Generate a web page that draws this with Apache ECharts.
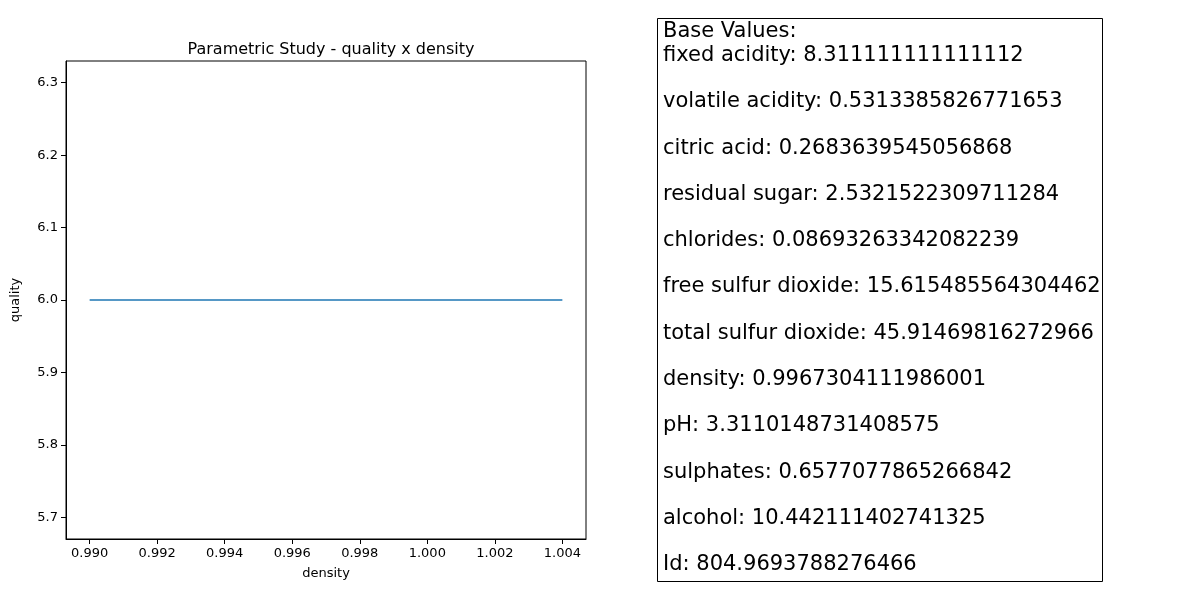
<!DOCTYPE html>
<html><head><meta charset="utf-8">
<script src="https://cdn.jsdelivr.net/npm/echarts@6/dist/echarts.min.js"></script>
<style>body{margin:0}#c{width:1200px;height:600px}</style></head>
<body><div id="c"></div>
<script>
const densityValues = [0.990, 0.992, 0.994, 0.996, 0.998, 1.000, 1.002, 1.0040];
const qualityValues = [6.0, 6.0, 6.0, 6.0, 6.0, 6.0, 6.0, 6.0];
const xTicks = [0.990,0.992,0.994,0.996,0.998,1.000,1.002,1.004];
const yTicks = [5.7,5.8,5.9,6.0,6.1,6.2,6.3];
const baseValueLines = [
 "fixed acidity: 8.311111111111112",
 "volatile acidity: 0.5313385826771653",
 "citric acid: 0.2683639545056868",
 "residual sugar: 2.5321522309711284",
 "chlorides: 0.08693263342082239",
 "free sulfur dioxide: 15.615485564304462",
 "total sulfur dioxide: 45.91469816272966",
 "density: 0.9967304111986001",
 "pH: 3.3110148731408575",
 "sulphates: 0.6577077865266842",
 "alcohol: 10.442111402741325",
 "Id: 804.9693788276466"
];
const ch = echarts.init(document.getElementById('c'));
const F = 'DejaVu Sans';
const graphics = [
 {type:'rect', shape:{x:657.5,y:18.5,width:445,height:563}, style:{fill:'#fff',stroke:'#000',lineWidth:1}},
 {type:'text', left:663, top:21, style:{text:'Base Values:', font:'21px "DejaVu Sans"', fill:'#000'}}
];
baseValueLines.forEach((t,i)=>graphics.push({type:'text', left:663, top:45+i*46.3, style:{text:t, font:'21px "DejaVu Sans"', fill:'#000'}}));
ch.setOption({
 animation:false,
 title:{text:'Parametric Study - quality x density', left:326, top:37, textAlign:'center', textStyle:{fontFamily:F,fontWeight:'normal',fontSize:16,color:'#000'}},
 grid:{left:66, top:61, width:520, height:478, show:true, borderColor:'#000', borderWidth:1},
 xAxis:{type:'value', min:0.9893, max:1.0047, name:'density', nameLocation:'middle', nameGap:28,
  nameTextStyle:{fontFamily:F,fontSize:13,color:'#000'},
  axisLine:{lineStyle:{color:'#000'}}, axisTick:{show:true,customValues:xTicks,lineStyle:{color:'#000'}}, splitLine:{show:false},
  axisLabel:{fontFamily:F,fontSize:13,color:'#000',showMinLabel:true,showMaxLabel:true,
   customValues:xTicks, formatter:v=>v.toFixed(3)}},
 yAxis:{type:'value', min:5.67, max:6.33, name:'quality', nameLocation:'middle', nameGap:44,
  nameTextStyle:{fontFamily:F,fontSize:13,color:'#000'},
  axisLine:{show:true,lineStyle:{color:'#000'}}, axisTick:{show:true,customValues:yTicks,lineStyle:{color:'#000'}}, splitLine:{show:false},
  axisLabel:{fontFamily:F,fontSize:13,color:'#000',customValues:yTicks,formatter:v=>v.toFixed(1)}},
 series:[{type:'line', data:densityValues.map((d,i)=>[d,qualityValues[i]]), showSymbol:false, lineStyle:{color:'#1f77b4',width:1.5}}],
 graphic:graphics
});
</script></body></html>
